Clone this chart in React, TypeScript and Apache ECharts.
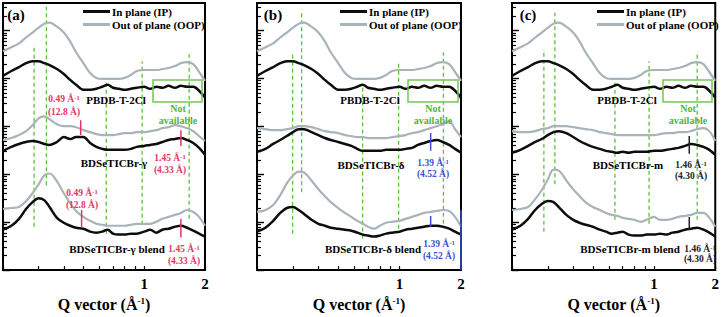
import React, { useEffect, useRef } from 'react';
import * as echarts from 'echarts';

// Q sample points (Å^-1)
const qGrid = [0.2, 0.22, 0.24, 0.26, 0.28, 0.30, 0.32, 0.34, 0.37, 0.40, 0.43, 0.46, 0.50, 0.54, 0.58, 0.62, 0.66, 0.70, 0.75, 0.80, 0.86, 0.92, 1.0, 1.07, 1.15, 1.23, 1.32, 1.42, 1.52, 1.63, 1.75, 1.87, 2.0];

// offset log-intensity (a.u.), PBDB-T-2Cl (same film shown in all panels)
const pbdbIP = [197, 202, 206, 210, 212, 212, 210, 208, 204, 199, 193, 188, 183, 183, 184, 186, 188, 185, 184, 183, 184, 185, 186, 184, 186, 185, 187, 185, 187, 186, 186, 182, 175];
const pbdbOOP = [222, 226, 230, 236, 241, 246, 250, 251, 247, 241, 232, 221, 210, 200, 195, 194, 194, 194, 194, 195, 198, 202, 203, 203, 203, 204, 205, 207, 210, 211, 209, 201, 192];

// panel (a)
const gammaIP = [121, 125, 128, 130, 131, 130, 128, 127, 130, 135, 133, 135, 135, 129, 125, 123, 122, 122, 122, 122, 123, 125, 126, 127, 128, 130, 132, 133, 134, 132, 129, 124, 117];
const gammaOOP = [132, 134, 137, 141, 147, 154, 156, 153, 148, 146, 146, 145, 142, 140, 138, 137, 137, 137, 138, 139, 139, 140, 140, 141, 142, 144, 145, 147, 146, 144, 141, 136, 131];
const gammaBlendIP = [41, 45, 52, 62, 69, 73, 71, 64, 53, 48, 45, 43, 42, 39, 38, 39, 41, 37, 36, 36, 37, 37, 39, 41, 38, 41, 42, 44, 45, 43, 40, 37, 34];
const gammaBlendOOP = [62, 63, 64, 70, 78, 87, 96, 98, 90, 78, 68, 60, 54, 50, 47, 46, 45, 45, 45, 45, 46, 47, 47, 47, 49, 52, 54, 56, 58, 61, 59, 54, 45];

// panel (b)
const deltaIP = [120, 123, 128, 132, 136, 140, 143, 143, 140, 137, 134, 132, 130, 128, 126, 123, 121, 121, 121, 121, 122, 122, 122, 123, 124, 127, 129, 131, 132, 130, 127, 123, 119];
const deltaOOP = [144, 143, 142, 142, 143, 144, 146, 146, 145, 143, 141, 140, 139, 137, 136, 135, 135, 134, 134, 134, 134, 135, 136, 137, 139, 140, 142, 144, 146, 148, 151, 143, 135];
const deltaBlendIP = [39, 43, 50, 58, 63, 64, 61, 57, 51, 47, 45, 43, 42, 41, 40, 38, 36, 35, 34, 35, 37, 38, 39, 41, 42, 43, 44, 45, 45, 44, 42, 39, 36];
const deltaBlendOOP = [59, 61, 66, 76, 88, 96, 100, 99, 91, 82, 75, 69, 63, 58, 54, 50, 47, 44, 42, 45, 48, 49, 50, 52, 54, 56, 58, 59, 60, 61, 60, 54, 44];

// panel (c)
const mIP = [119, 122, 126, 130, 133, 137, 140, 141, 139, 135, 131, 128, 125, 123, 121, 120, 119, 120, 119, 120, 120, 120, 121, 121, 122, 123, 124, 126, 128, 127, 125, 122, 117];
const mOOP = [141, 140, 140, 141, 143, 144, 146, 146, 146, 145, 144, 143, 142, 140, 139, 138, 137, 137, 137, 137, 137, 137, 137, 138, 139, 139, 140, 140, 141, 143, 144, 141, 131];
const mBlendIP = [41, 45, 52, 61, 67, 70, 69, 64, 56, 51, 48, 46, 44, 41, 39, 37, 38, 39, 36, 35, 35, 36, 36, 37, 36, 38, 39, 41, 42, 43, 41, 38, 34];
const mBlendOOP = [61, 62, 64, 72, 81, 92, 102, 101, 91, 82, 75, 69, 64, 61, 58, 56, 55, 53, 52, 51, 49, 51, 54, 51, 51, 52, 54, 55, 56, 58, 58, 53, 44];

// green dashed guide lines: Q and vertical extent per panel
const guideQ = [[0.285, 0.328, 0.649, 0.977, 1.67], [0.299, 0.331, 0.659, 0.989, 1.64], [0.287, 0.325, 0.642, 0.945, 1.63]];
const guideTop = [[229, 267, 191, 212, 219], [221, 264, 189, 211, 221], [224, 261, 191, 212, 221]];
const guideBottom = [[44, 86, 37, 46, 52], [37, 79, 32, 42, 47], [39, 87, 51, 47, 51]];

// peak marker lines (Q, from, to) per panel
const markerQ = [[0.485, 1.52, 0.49, 1.52], [1.42, 1.42, 2.0], [1.49, 1.49]];
const markerFrom = [[137, 126, 43, 33], [121, 44, 0], [118, 41]];
const markerTo = [[152, 142, 61, 52], [139, 55, 61], [136, 54]];
const markerColor = ['#e5336a', '#3b4fd6', '#222222'];

const xTickQ = [0.2, 0.3, 0.4, 0.5, 0.6, 0.7, 0.8, 0.9, 1, 2];
const xLabelQ = [1, 2];

const FONT = '"Liberation Serif", "Times New Roman", serif';
const IP_COLOR = '#0d0d0d';
const OOP_COLOR = '#a8b3ba';
const GREEN = '#5cc23a';
const DEC = 48.6;
const YMAX = 271;

const grids = [
  { left: 3, width: 202 },
  { left: 257, width: 204 },
  { left: 512, width: 205 },
];

const panelCurves = [
  [pbdbIP, pbdbOOP, gammaIP, gammaOOP, gammaBlendIP, gammaBlendOOP],
  [pbdbIP, pbdbOOP, deltaIP, deltaOOP, deltaBlendIP, deltaBlendOOP],
  [pbdbIP, pbdbOOP, mIP, mOOP, mBlendIP, mBlendOOP],
];

const lg = (v: number) => Math.log10(v);

function buildOption() {
  const minorTicks: number[] = [];
  const decadeTicks: number[] = [];
  for (let n = 0; n < 6; n++) {
    for (let k = 1; k <= 9; k++) {
      const v = DEC * (n + lg(k));
      if (v <= YMAX) {
        if (k === 1) decadeTicks.push(v);
        else minorTicks.push(v);
      }
    }
  }
  const xAxis: any[] = [];
  const yAxis: any[] = [];
  const grid: any[] = [];
  const series: any[] = [];
  const legend: any[] = [];
  grids.forEach((g, gi) => {
    grid.push({ left: g.left, width: g.width, top: 3, height: 271, show: true, borderColor: '#000', borderWidth: 2, backgroundColor: 'transparent' });
    xAxis.push({
      type: 'value', gridIndex: gi, min: lg(0.2), max: lg(2), position: 'bottom',
      axisLine: { show: false, onZero: false },
      splitLine: { show: false },
      axisTick: { show: true, inside: true, length: 4, customValues: xTickQ.map(lg), lineStyle: { color: '#000', width: 1.2 } },
      axisLabel: {
        customValues: xLabelQ.map(lg), formatter: (v: number) => String(Math.round(Math.pow(10, v))),
        fontSize: 15, fontWeight: 'bold', fontFamily: FONT, color: '#000', margin: 6,
      },
      name: '{a|Q vector (Å}{s|-1}{a|)}', nameLocation: 'middle', nameGap: 25,
      nameTextStyle: {
        rich: {
          a: { fontSize: 16, fontWeight: 'bold', fontFamily: FONT, color: '#000', verticalAlign: 'bottom' },
          s: { fontSize: 9, fontWeight: 'bold', fontFamily: FONT, color: '#000', verticalAlign: 'top' },
        },
      },
    });
    yAxis.push({
      type: 'value', gridIndex: gi, min: 0, max: YMAX, position: 'left', offset: 0,
      axisLine: { show: false, onZero: false }, splitLine: { show: false }, axisLabel: { show: false },
      axisTick: { show: true, inside: true, length: 4, customValues: minorTicks, lineStyle: { color: '#000', width: 1.2 } },
    });
    yAxis.push({
      type: 'value', gridIndex: gi, min: 0, max: YMAX, position: 'left', offset: 0,
      axisLine: { show: false, onZero: false }, splitLine: { show: false }, axisLabel: { show: false },
      axisTick: { show: true, inside: true, length: 7, customValues: decadeTicks, lineStyle: { color: '#000', width: 1.4 } },
    });
    // guide lines
    guideQ[gi].forEach((q, i) => {
      series.push({
        type: 'line', xAxisIndex: gi, yAxisIndex: gi * 2, silent: true, symbol: 'none', z: 1,
        data: [[lg(q), guideBottom[gi][i]], [lg(q), guideTop[gi][i]]],
        lineStyle: { color: GREEN, width: 1.3, type: [4, 3] },
      });
    });
    // curves
    panelCurves[gi].forEach((vals, ci) => {
      const isIP = ci % 2 === 0;
      series.push({
        type: 'line', name: isIP ? 'In plane (IP)' : 'Out of plane (OOP)',
        xAxisIndex: gi, yAxisIndex: gi * 2, symbol: 'none', smooth: 0.35, z: isIP ? 4 : 3,
        color: isIP ? IP_COLOR : OOP_COLOR,
        lineStyle: { color: isIP ? IP_COLOR : OOP_COLOR, width: isIP ? 2.5 : 2.2 },
        data: qGrid.map((q, i) => [lg(q), vals[i]]),
      });
    });
    // peak markers
    markerQ[gi].forEach((q, i) => {
      series.push({
        type: 'line', xAxisIndex: gi, yAxisIndex: gi * 2, silent: true, symbol: 'none', z: 5,
        data: [[lg(q), markerFrom[gi][i]], [lg(q), markerTo[gi][i]]],
        lineStyle: { color: markerColor[gi], width: 1.5 },
      });
    });
  });
  const legendLeft = [83, 340, 597];
  legendLeft.forEach((l) => {
    legend.push({
      left: l, top: 5, orient: 'vertical', itemGap: 0, itemWidth: 27, itemHeight: 3, icon: 'rect',
      selectedMode: false, padding: 0,
      data: ['In plane (IP)', 'Out of plane (OOP)'],
      textStyle: { fontSize: 11, fontWeight: 'bold', fontFamily: FONT, color: '#000', lineHeight: 13, padding: [0, 0, 0, -3] },
    });
  });

  const txt = (x: number, y: number, text: string, size: number, color = '#000', extra: any = {}) => ({
    type: 'text', x, y, z: 20,
    style: { text, fontSize: size, fontWeight: 'bold', fontFamily: FONT, fill: color, align: 'center', verticalAlign: 'middle', ...extra },
  });
  const supTxt = (x: number, y: number, main: string, color: string, size = 9.5) => ({
    type: 'text', x, y, z: 20,
    style: {
      text: `{a|${main}}{s|-1}`, align: 'center', verticalAlign: 'middle',
      rich: {
        a: { fontSize: size, fontWeight: 'bold', fontFamily: FONT, fill: color, verticalAlign: 'bottom' },
        s: { fontSize: 6.5, fontWeight: 'bold', fontFamily: FONT, fill: color, verticalAlign: 'top' },
      },
    },
  });
  const rect = (x: number, y: number, w: number, h: number) => ({
    type: 'rect', z: 20, shape: { x, y, width: w, height: h }, style: { fill: 'none', stroke: '#73c75a', lineWidth: 1.5 },
  });

  const graphic: any[] = [
    txt(16, 15, '(a)', 15), txt(273, 15, '(b)', 15), txt(528, 15, '(c)', 15),
    txt(116, 100, 'PBDB-T-2Cl', 11), txt(370, 100, 'PBDB-T-2Cl', 11), txt(627, 100, 'PBDB-T-2Cl', 11),
    rect(153, 80, 49, 22), rect(408, 80, 50, 22), rect(663, 80, 49, 22),
    txt(178, 108, 'Not', 10, '#4fb43a'), txt(178, 120, 'available', 10, '#4fb43a'),
    txt(433, 108, 'Not', 10, '#4fb43a'), txt(433, 120, 'available', 10, '#4fb43a'),
    txt(688, 108, 'Not', 10, '#4fb43a'), txt(688, 120, 'available', 10, '#4fb43a'),
    // panel a
    supTxt(64, 99, '0.49 Å', markerColor[0]), txt(64, 112, '(12.8 Å)', 9.5, markerColor[0]),
    txt(114, 163, 'BDSeTICBr-γ', 11),
    supTxt(170, 158, '1.45 Å', markerColor[0]), txt(170, 170, '(4.33 Å)', 9.5, markerColor[0]),
    supTxt(82, 193, '0.49 Å', markerColor[0]), txt(82, 205, '(12.8 Å)', 9.5, markerColor[0]),
    txt(117, 249, 'BDSeTICBr-γ blend', 11),
    supTxt(184, 249, '1.45 Å', markerColor[0]), txt(184, 261, '(4.33 Å)', 9.5, markerColor[0]),
    // panel b
    txt(371, 165, 'BDSeTICBr-δ', 11),
    supTxt(433, 163, '1.39 Å', markerColor[1]), txt(433, 174, '(4.52 Å)', 9.5, markerColor[1]),
    txt(373, 249, 'BDSeTICBr-δ blend', 11),
    supTxt(439, 244, '1.39 Å', markerColor[1]), txt(439, 256, '(4.52 Å)', 9.5, markerColor[1]),
    // panel c
    txt(628, 165, 'BDSeTICBr-m', 11),
    supTxt(691, 165, '1.46 Å', markerColor[2]), txt(691, 176, '(4.30 Å)', 9.5, markerColor[2]),
    txt(630, 249, 'BDSeTICBr-m blend', 11),
    supTxt(700, 249, '1.46 Å', markerColor[2]), txt(700, 259, '(4.30 Å)', 9.5, markerColor[2]),
  ];

  return { animation: false, backgroundColor: '#fff', grid, xAxis, yAxis, series, legend, graphic };
}

export default function App() {
  const ref = useRef<HTMLDivElement>(null);
  useEffect(() => {
    if (!ref.current) return;
    const chart = echarts.init(ref.current, undefined, { renderer: 'svg' });
    chart.setOption(buildOption() as any);
    return () => chart.dispose();
  }, []);
  return <div ref={ref} style={{ position: 'fixed', left: 0, top: 0, width: 722, height: 317 }} />;
}
